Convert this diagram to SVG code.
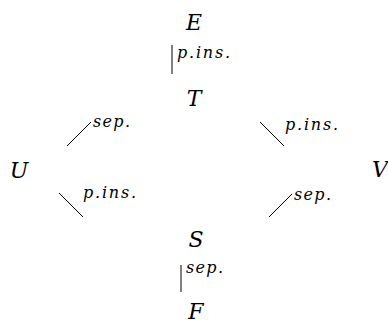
<svg xmlns="http://www.w3.org/2000/svg" width="388" height="320" viewBox="0 0 388 320">
<style>
.n{font-family:"DejaVu Serif","Liberation Serif",serif;font-style:italic;font-size:22px;fill:#000;text-anchor:middle}
.l{font-family:"DejaVu Serif","Liberation Serif",serif;font-style:italic;font-size:16px;fill:#000}
.c{stroke:#000;stroke-width:1;fill:none}
</style>
<rect width="388" height="320" fill="#fff"/>
<g id="E"><text class="n" x="194" y="30">E</text></g>
<g id="T"><text class="n" x="194" y="106">T</text></g>
<g id="U"><text class="n" x="19" y="178">U</text></g>
<g id="V"><text class="n" x="380" y="177">V</text></g>
<g id="S"><text class="n" x="196" y="247">S</text></g>
<g id="F"><text class="n" x="196" y="319">F</text></g>
<g id="connectors">
<line class="c" x1="172" y1="45" x2="172" y2="74"/>
<line class="c" x1="67" y1="146" x2="91" y2="122"/>
<line class="c" x1="59" y1="193" x2="83" y2="217"/>
<line class="c" x1="260" y1="122" x2="284" y2="146"/>
<line class="c" x1="269" y1="217" x2="292" y2="194"/>
<line class="c" x1="181" y1="265" x2="181" y2="292"/>
<text class="l" x="177" y="58" textLength="53" lengthAdjust="spacing">p.ins.</text>
<text class="l" x="93" y="127" textLength="37" lengthAdjust="spacing">sep.</text>
<text class="l" x="83" y="198" textLength="53" lengthAdjust="spacing">p.ins.</text>
<text class="l" x="285" y="130" textLength="53" lengthAdjust="spacing">p.ins.</text>
<text class="l" x="294" y="200" textLength="37" lengthAdjust="spacing">sep.</text>
<text class="l" x="186" y="273" textLength="37" lengthAdjust="spacing">sep.</text>
</g>
</svg>
